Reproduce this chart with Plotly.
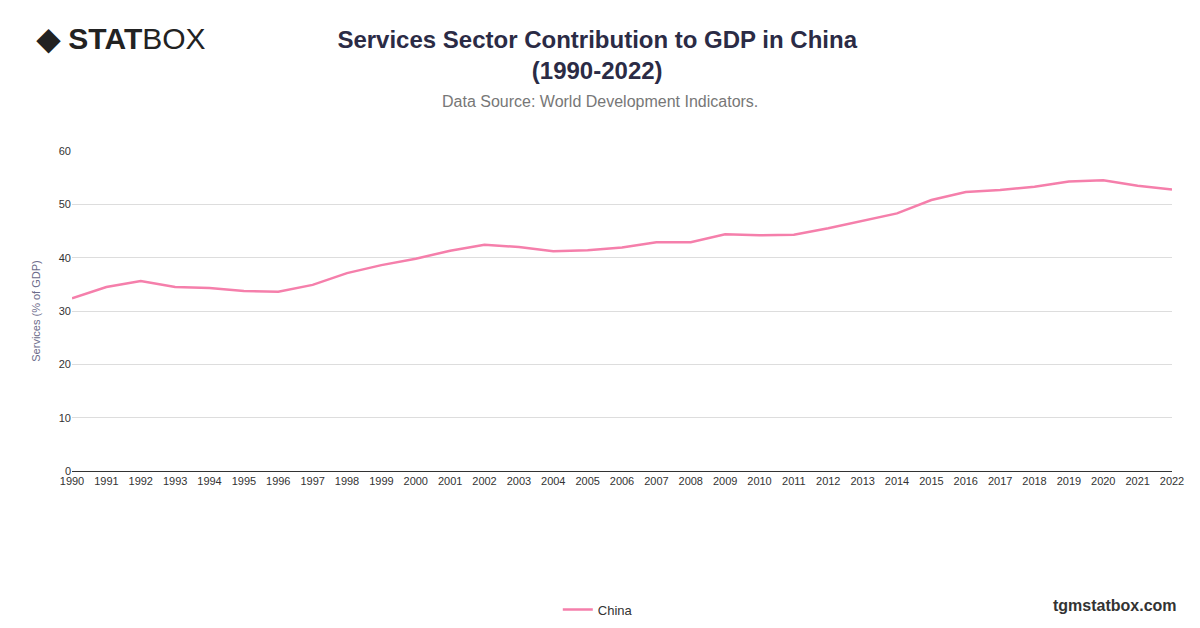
import plotly.graph_objects as go

years = [str(y) for y in range(1990, 2023)]
services_pct = [32.4, 34.5, 35.6, 34.5, 34.3, 33.75, 33.6, 34.9, 37.1, 38.6, 39.8,
                41.3, 42.4, 42.0, 41.2, 41.4, 41.9, 42.9, 42.9, 44.4, 44.2, 44.3,
                45.5, 46.9, 48.3, 50.8, 52.3, 52.7, 53.3, 54.3, 54.5, 53.5, 52.8]

fig = go.Figure()
fig.add_trace(go.Scatter(x=years, y=services_pct, mode="lines", name="China",
                         line=dict(color="#f57fab", width=2.5)))

fig.update_layout(
    width=1200, height=628, plot_bgcolor="white", paper_bgcolor="white",
    margin=dict(l=64, r=36, t=143, b=165),
    font=dict(family="Liberation Sans, Arial", color="#333"),
    title=dict(text="<b>Services Sector Contribution to GDP in China<br>(1990-2022)</b>",
               x=0.491, xanchor="center", y=0.936, yanchor="top",
               font=dict(size=24, color="#2b2b45")),
    showlegend=True,
    legend=dict(orientation="h", x=0.478, xanchor="center", y=-0.386, yanchor="top",
                font=dict(size=13, color="#333")),
    xaxis=dict(type="category", showgrid=False, showline=True, linecolor="#333",
               ticks="", tickfont=dict(size=11, color="#333"), range=[0, 32]),
    yaxis=dict(range=[0, 60], dtick=10, gridcolor="#dddddd", zeroline=False,
               tickfont=dict(size=11, color="#333"),
               title=dict(text="Services (% of GDP)", font=dict(size=11, color="#6b6b8a"))),
)
fig.add_annotation(text="Data Source: World Development Indicators.", xref="paper", yref="paper",
                   x=0.48, y=1.186, xanchor="center", showarrow=False,
                   font=dict(size=16, color="#777"), )
fig.add_annotation(text="<b>◆ STAT</b>BOX", xref="paper", yref="paper", x=-0.035, y=1.408,
                   xanchor="left", showarrow=False, font=dict(size=30, color="#222"))
fig.add_annotation(text="<b>tgmstatbox.com</b>", xref="paper", yref="paper", x=1.006, y=-0.386,
                   xanchor="right", yanchor="top", showarrow=False,
                   font=dict(size=16, color="#333"))
fig.write_html("out.html")
